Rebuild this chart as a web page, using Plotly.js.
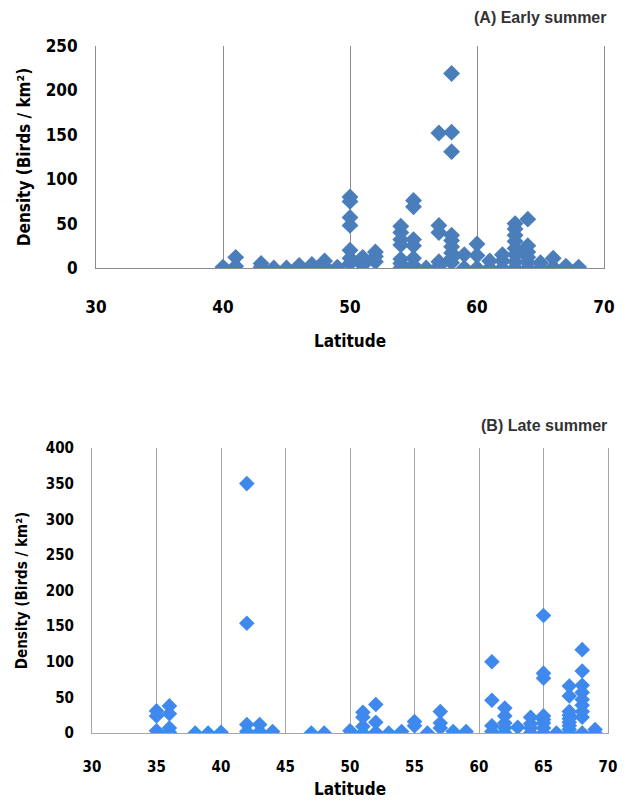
<!DOCTYPE html>
<html>
<head>
<meta charset="utf-8">
<script src="https://cdn.plot.ly/plotly-3.0.1.min.js"></script>
<style>html,body{margin:0;padding:0;background:#fff;}#chart{width:625px;height:800px;}</style>
</head>
<body>
<div id="chart"></div>
<script>
// (A) Early summer
const latA = [40, 41,41, 43,43, 44, 45, 46, 47,47, 48,48, 49,
  50,50,50,50,50,50,50, 51,51,51, 52,52,52,
  54,54,54,54,54,54,54, 55,55,55,55,55,55, 56,
  57,57,57,57,57, 58,58,58,58,58,58,58,58,58,
  59,59, 60,60,60, 61,61, 62,62,62,
  63,63,63,63,63,63,63,63, 64,64,64,64,64,64,
  65,65, 66,66, 67, 68];
const densA = [1, 12,2, 5,1, 0, 0, 3, 4,1, 8,2, 1,
  80,75,57,48,20,11,5, 12,8,3, 18,13,7,
  47,40,32,26,10,5,0, 76,69,32,25,11,3, 0,
  152,48,40,7,2, 219,153,131,37,31,24,17,11,6,
  15,0, 27,14,0, 8,0, 15,8,0,
  50,44,37,30,22,15,7,0, 55,25,18,12,6,0,
  6,0, 11,1, 2, 1];

// (B) Late summer
const latB = [35,35,35, 36,36,36,36, 38, 39, 40, 42,42,42,42, 43,43, 44, 47, 48,
  50, 51,51,51,51, 52,52,52, 53, 54, 55,55, 56, 57,57,57, 58, 59,
  61,61,61,61, 62,62,62,62,62, 63, 64,64,64,64,
  65,65,65,65,65,65,65,65, 66,
  67,67,67,67,67,67,67,67,67, 68,68,68,68,68,68,68,68,68, 69,69];
const densB = [31,24,3, 38,27,7,1, 0, 0, 1, 350,154,12,2, 12,2, 2, 0, 0,
  3, 29,22,9,0, 40,15,1, 0, 2, 16,10, 0, 30,14,7, 2, 2,
  100,46,10,2, 35,24,14,7,0, 8, 22,13,7,0,
  165,84,77,24,19,14,7,0, 0,
  66,52,30,25,20,15,10,5,0, 117,87,67,57,47,39,30,22,0, 5,0];

const xTicksA = [30, 40, 50, 60, 70];
const xTicksB = [30, 35, 40, 45, 50, 55, 60, 65, 70];
const yTicksA = [0, 50, 100, 150, 200, 250];
const yTicksB = [0, 50, 100, 150, 200, 250, 300, 350, 400];

const FAM = '"DejaVu Sans Condensed", "Liberation Sans Narrow", Arial, sans-serif';
const tickFont = {family: FAM, size: 17, color: '#000', weight: 'bold'};
const tickFontB = {family: FAM, size: 15, color: '#000', weight: 'bold'};
const titleFont = {family: FAM, size: 17, color: '#000', weight: 'bold'};
const titleFontB = {family: FAM, size: 15, color: '#000', weight: 'bold'};
const panelFont = {family: 'Arial, "Liberation Sans", sans-serif', size: 16, color: '#333', weight: 'bold'};

const traces = [
  {x: latA, y: densA, type: 'scatter', mode: 'markers', xaxis: 'x', yaxis: 'y',
   marker: {symbol: 'diamond', size: 13, color: '#4a7ebb'}},
  {x: latB, y: densB, type: 'scatter', mode: 'markers', xaxis: 'x2', yaxis: 'y2',
   marker: {symbol: 'diamond', size: 12, color: '#3f89ee'}}
];

const layout = {
  width: 625, height: 800,
  margin: {l: 0, r: 0, t: 0, b: 0},
  paper_bgcolor: '#fff', plot_bgcolor: '#fff',
  showlegend: false,
  xaxis: {domain: [96/625, 604/625], anchor: 'y', range: [30, 70], tickvals: xTicksA,
    showgrid: true, gridcolor: '#8c8c8c', gridwidth: 1, zeroline: false,
    showline: true, linecolor: '#8c8c8c', linewidth: 1, mirror: false,
    ticks: 'outside', ticklen: 24, tickcolor: 'rgba(0,0,0,0)', tickfont: tickFont,
    title: {text: 'Latitude', font: titleFont, standoff: 18}},
  yaxis: {domain: [1 - 268/800, 1 - 46/800], anchor: 'x', range: [0, 250], tickvals: yTicksA,
    showgrid: false, zeroline: false, showline: true, mirror: true, linecolor: '#8c8c8c', linewidth: 1,
    ticks: 'outside', ticklen: 14, tickcolor: 'rgba(0,0,0,0)', tickfont: tickFont,
    title: {text: 'Density (Birds / km²)', font: titleFont, standoff: 10}},
  xaxis2: {domain: [92/625, 608/625], anchor: 'y2', range: [30, 70], tickvals: xTicksB,
    showgrid: true, gridcolor: '#a6a6a6', gridwidth: 1, zeroline: false,
    showline: true, linecolor: '#a6a6a6', linewidth: 1,
    ticks: 'outside', ticklen: 20, tickcolor: 'rgba(0,0,0,0)', tickfont: tickFontB,
    title: {text: 'Latitude', font: titleFont, standoff: 8}},
  yaxis2: {domain: [1 - 733/800, 1 - 448/800], anchor: 'x2', range: [0, 400], tickvals: yTicksB,
    showgrid: false, zeroline: false, showline: true, mirror: true, linecolor: '#a6a6a6', linewidth: 1,
    ticks: 'outside', ticklen: 14, tickcolor: 'rgba(0,0,0,0)', tickfont: tickFontB,
    title: {text: 'Density (Birds / km²)', font: titleFontB, standoff: 14}},
  annotations: [
    {text: '(A) Early summer', xref: 'paper', yref: 'paper', x: 609/625, y: 1 - 18/800,
     xanchor: 'right', yanchor: 'middle', showarrow: false, font: panelFont},
    {text: '(B) Late summer', xref: 'paper', yref: 'paper', x: 609/625, y: 1 - 425/800,
     xanchor: 'right', yanchor: 'middle', showarrow: false, font: panelFont}
  ]
};

Plotly.newPlot('chart', traces, layout, {displayModeBar: false, staticPlot: true});
</script>
</body>
</html>
